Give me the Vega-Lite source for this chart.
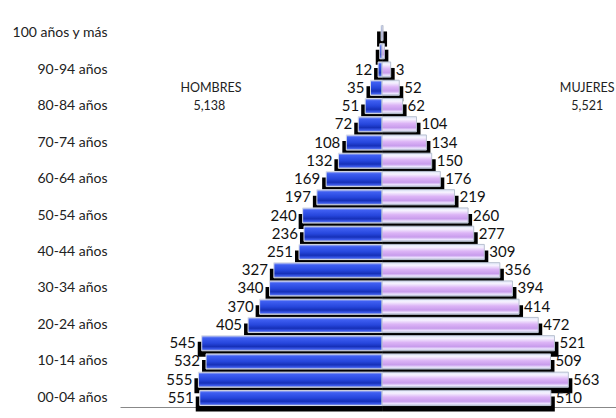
{
  "$schema": "https://vega.github.io/schema/vega-lite/v6.json",
  "width": 496,
  "height": 383,
  "autosize": {"type": "none"},
  "padding": {"left": 120, "top": 24, "right": 0, "bottom": 11},
  "background": "white",
  "config": {"view": {"stroke": null}, "font": "Lato"},
  "data": {"values": [
    {"age": "00-04 años", "sex": "H", "v": -551, "lbl": "551"},
    {"age": "05-09 años", "sex": "H", "v": -555, "lbl": "555"},
    {"age": "10-14 años", "sex": "H", "v": -532, "lbl": "532"},
    {"age": "15-19 años", "sex": "H", "v": -545, "lbl": "545"},
    {"age": "20-24 años", "sex": "H", "v": -405, "lbl": "405"},
    {"age": "25-29 años", "sex": "H", "v": -370, "lbl": "370"},
    {"age": "30-34 años", "sex": "H", "v": -340, "lbl": "340"},
    {"age": "35-39 años", "sex": "H", "v": -327, "lbl": "327"},
    {"age": "40-44 años", "sex": "H", "v": -251, "lbl": "251"},
    {"age": "45-49 años", "sex": "H", "v": -236, "lbl": "236"},
    {"age": "50-54 años", "sex": "H", "v": -240, "lbl": "240"},
    {"age": "55-59 años", "sex": "H", "v": -197, "lbl": "197"},
    {"age": "60-64 años", "sex": "H", "v": -169, "lbl": "169"},
    {"age": "65-69 años", "sex": "H", "v": -132, "lbl": "132"},
    {"age": "70-74 años", "sex": "H", "v": -108, "lbl": "108"},
    {"age": "75-79 años", "sex": "H", "v": -72, "lbl": "72"},
    {"age": "80-84 años", "sex": "H", "v": -51, "lbl": "51"},
    {"age": "85-89 años", "sex": "H", "v": -35, "lbl": "35"},
    {"age": "90-94 años", "sex": "H", "v": -12, "lbl": "12"},
    {"age": "95-99 años", "sex": "H", "v": -7, "lbl": ""},
    {"age": "100 años y más", "sex": "H", "v": -3, "lbl": ""},
    {"age": "00-04 años", "sex": "M", "v": 510, "lbl": "510"},
    {"age": "05-09 años", "sex": "M", "v": 563, "lbl": "563"},
    {"age": "10-14 años", "sex": "M", "v": 509, "lbl": "509"},
    {"age": "15-19 años", "sex": "M", "v": 521, "lbl": "521"},
    {"age": "20-24 años", "sex": "M", "v": 472, "lbl": "472"},
    {"age": "25-29 años", "sex": "M", "v": 414, "lbl": "414"},
    {"age": "30-34 años", "sex": "M", "v": 394, "lbl": "394"},
    {"age": "35-39 años", "sex": "M", "v": 356, "lbl": "356"},
    {"age": "40-44 años", "sex": "M", "v": 309, "lbl": "309"},
    {"age": "45-49 años", "sex": "M", "v": 277, "lbl": "277"},
    {"age": "50-54 años", "sex": "M", "v": 260, "lbl": "260"},
    {"age": "55-59 años", "sex": "M", "v": 219, "lbl": "219"},
    {"age": "60-64 años", "sex": "M", "v": 176, "lbl": "176"},
    {"age": "65-69 años", "sex": "M", "v": 150, "lbl": "150"},
    {"age": "70-74 años", "sex": "M", "v": 134, "lbl": "134"},
    {"age": "75-79 años", "sex": "M", "v": 104, "lbl": "104"},
    {"age": "80-84 años", "sex": "M", "v": 62, "lbl": "62"},
    {"age": "85-89 años", "sex": "M", "v": 52, "lbl": "52"},
    {"age": "90-94 años", "sex": "M", "v": 26, "lbl": "3"},
    {"age": "95-99 años", "sex": "M", "v": 7, "lbl": ""},
    {"age": "100 años y más", "sex": "M", "v": 3, "lbl": ""}
  ]},
  "encoding": {
    "y": {
      "field": "age", "type": "nominal", "title": null,
      "scale": {
        "domain": ["100 años y más", "95-99 años", "90-94 años", "85-89 años", "80-84 años", "75-79 años", "70-74 años", "65-69 años", "60-64 años", "55-59 años", "50-54 años", "45-49 años", "40-44 años", "35-39 años", "30-34 años", "25-29 años", "20-24 años", "15-19 años", "10-14 años", "05-09 años", "00-04 años"],
        "paddingInner": 0.17, "paddingOuter": 0.08
      },
      "axis": {
        "values": ["100 años y más", "90-94 años", "80-84 años", "70-74 años", "60-64 años", "50-54 años", "40-44 años", "30-34 años", "20-24 años", "10-14 años", "00-04 años"],
        "domain": false, "ticks": false, "labelPadding": 13, "labelAlign": "right",
        "labelFont": "Lato", "labelFontSize": 14, "labelColor": "#222"
      }
    }
  },
  "layer": [
    {
      "transform": [{"filter": "datum.sex == 'H'"}],
      "mark": {"type": "bar", "color": "black", "xOffset": -4, "yOffset": 6},
      "encoding": {
        "x": {"field": "v", "type": "quantitative", "title": null,
              "scale": {"domain": [-792, 707], "nice": false, "zero": false},
              "axis": {"domain": true, "domainColor": "#888", "ticks": false, "labels": false, "grid": false, "orient": "bottom"}},
        "x2": {"datum": 0}
      }
    },
    {
      "transform": [{"filter": "datum.sex == 'M'"}],
      "mark": {"type": "bar", "color": "black", "xOffset": 4, "yOffset": 6},
      "encoding": {"x": {"field": "v", "type": "quantitative"}, "x2": {"datum": 0}}
    },
    {
      "transform": [{"filter": "datum.sex == 'H'"}],
      "mark": {"type": "bar", "stroke": "#d8dce8", "strokeWidth": 1,
        "color": {"gradient": "linear", "x1": 0, "y1": 0, "x2": 0, "y2": 1, "stops": [
          {"offset": 0, "color": "#c0c8ee"},
          {"offset": 0.15, "color": "#3f5ff2"},
          {"offset": 0.5, "color": "#2646dc"},
          {"offset": 0.72, "color": "#1630b8"},
          {"offset": 0.88, "color": "#3a58ea"},
          {"offset": 1, "color": "#a0acd8"}]}},
      "encoding": {"x": {"field": "v", "type": "quantitative"}, "x2": {"datum": 0}}
    },
    {
      "transform": [{"filter": "datum.sex == 'M'"}],
      "mark": {"type": "bar", "stroke": "#b8c0d0", "strokeWidth": 1,
        "color": {"gradient": "linear", "x1": 0, "y1": 0, "x2": 0, "y2": 1, "stops": [
          {"offset": 0, "color": "#dfe8f8"},
          {"offset": 0.18, "color": "#f6f2ff"},
          {"offset": 0.45, "color": "#dcb4f6"},
          {"offset": 0.72, "color": "#c89cec"},
          {"offset": 0.88, "color": "#ece4ff"},
          {"offset": 1, "color": "#b0b8cc"}]}},
      "encoding": {"x": {"field": "v", "type": "quantitative"}, "x2": {"datum": 0}}
    },
    {
      "mark": {"type": "rule", "color": "#999", "strokeWidth": 1},
      "encoding": {"x": {"datum": 0}}
    },
    {
      "transform": [{"filter": "datum.sex == 'H'"}],
      "mark": {"type": "text", "align": "right", "baseline": "middle", "dx": -6, "font": "Lato", "fontSize": 15, "color": "#111"},
      "encoding": {"x": {"field": "v", "type": "quantitative"}, "text": {"field": "lbl"}}
    },
    {
      "transform": [{"filter": "datum.sex == 'M'"}],
      "mark": {"type": "text", "align": "left", "baseline": "middle", "dx": 5, "font": "Lato", "fontSize": 15, "color": "#111"},
      "encoding": {"x": {"field": "v", "type": "quantitative"}, "text": {"field": "lbl"}}
    },
    {
      "data": {"values": [
        {"t": "HOMBRES", "x": -517, "age": "85-89 años"},
        {"t": "5,138", "x": -522, "age": "80-84 años"},
        {"t": "MUJERES", "x": 620, "age": "85-89 años"},
        {"t": "5,521", "x": 620, "age": "80-84 años"}
      ]},
      "mark": {"type": "text", "align": "center", "baseline": "middle", "font": "Lato", "fontSize": 12.5, "color": "#222"},
      "encoding": {"x": {"field": "x", "type": "quantitative"}, "text": {"field": "t"}}
    }
  ]
}
